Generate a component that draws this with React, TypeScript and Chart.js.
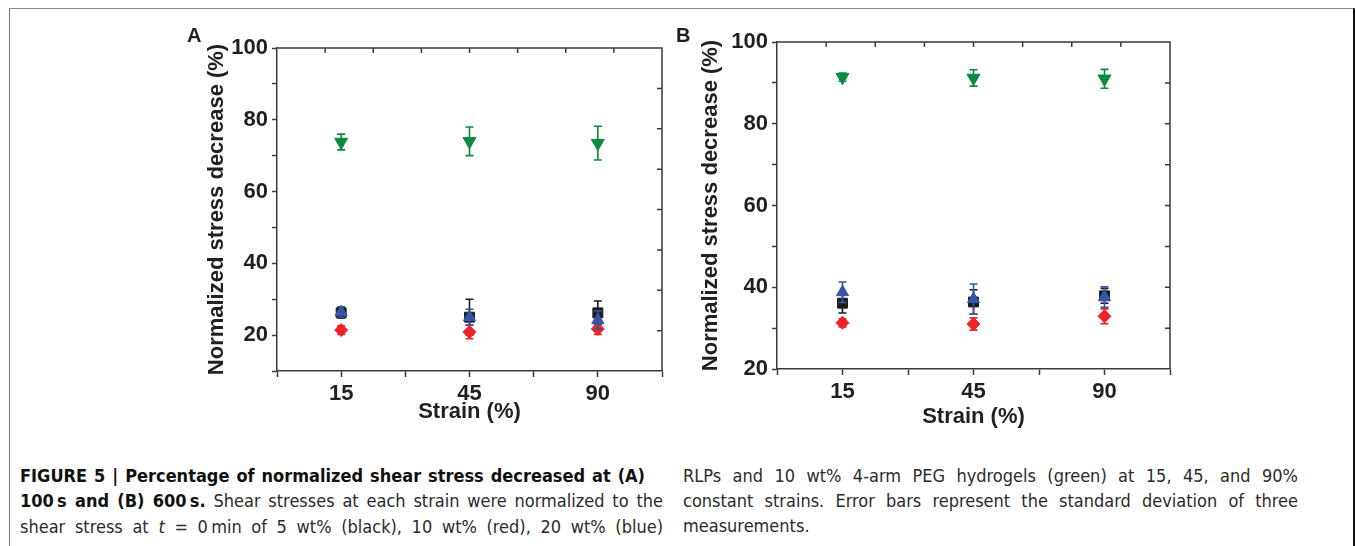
import React, { useEffect, useRef } from "react";
import { Chart, registerables } from "chart.js";

Chart.register(...registerables);

// ---------- data ----------
const strainLabels = ["15", "45", "90"];
const strainPos = [0, 1, 2];

// Panel A: 100 s
const aBlack = [26.2, 25.0, 26.2];
const aBlackErr = [1.5, 5.0, 3.3];
const aRed = [21.4, 20.9, 21.7];
const aRedErr = [1.2, 1.9, 1.5];
const aBlue = [26.4, 25.0, 24.2];
const aBlueErr = [1.5, 2.2, 2.5];
const aGreen = [73.8, 74.0, 73.5];
const aGreenErr = [2.2, 4.0, 4.7];

// Panel B: 600 s
const bBlack = [36.1, 36.4, 37.9];
const bBlackErr = [2.4, 3.0, 1.8];
const bRed = [31.3, 31.0, 32.9];
const bRedErr = [1.0, 1.5, 1.8];
const bBlue = [38.8, 37.1, 37.6];
const bBlueErr = [2.5, 3.7, 2.5];
const bGreen = [91.4, 91.2, 91.0];
const bGreenErr = [1.0, 2.0, 2.3];

const yTicksA = [10, 100];
const yTicksB = [20, 100];

const COLORS = {
  black: "#1c1c1c",
  red: "#ee2229",
  blue: "#3555a6",
  green: "#0b8a42",
  axis: "#3a3a3a",
  text: "#231f20",
};

const FONT_FAMILY = "'Liberation Sans', Arial, Helvetica, sans-serif";

const errorBarPlugin = {
  id: "errorBars",
  afterDatasetDraw(chart: any, args: any) {
    const ds = chart.data.datasets[args.index];
    const errs = ds.errors;
    if (!errs) return;
    const ctx = chart.ctx;
    const xs = chart.scales.x;
    const ys = chart.scales.y;
    ctx.save();
    ctx.strokeStyle = ds.borderColor;
    ctx.lineWidth = 1.6;
    ds.data.forEach((p: any, i: number) => {
      const x = xs.getPixelForValue(p.x);
      const yt = ys.getPixelForValue(p.y + errs[i]);
      const yb = ys.getPixelForValue(p.y - errs[i]);
      ctx.beginPath();
      ctx.moveTo(x, yt);
      ctx.lineTo(x, yb);
      ctx.moveTo(x - 4, yt);
      ctx.lineTo(x + 4, yt);
      ctx.moveTo(x - 4, yb);
      ctx.lineTo(x + 4, yb);
      ctx.stroke();
    });
    ctx.restore();
  },
};

const framePlugin = {
  id: "frame",
  afterDraw(chart: any) {
    const { left, right, top, bottom } = chart.chartArea;
    const ctx = chart.ctx;
    ctx.save();
    ctx.strokeStyle = COLORS.axis;
    ctx.lineWidth = 1.5;
    ctx.beginPath();
    ctx.moveTo(left, top);
    ctx.lineTo(right, top);
    ctx.lineTo(right, bottom);
    const n = 8;
    for (let i = 1; i < n; i++) {
      const x = left + ((right - left) * i) / n;
      ctx.moveTo(x, top);
      ctx.lineTo(x, top + 5);
      const y = top + ((bottom - top) * i) / n;
      ctx.moveTo(right, y);
      ctx.lineTo(right - 5, y);
    }
    ctx.stroke();
    ctx.restore();
  },
};

type PanelProps = {
  black: number[]; blackErr: number[];
  red: number[]; redErr: number[];
  blue: number[]; blueErr: number[];
  green: number[]; greenErr: number[];
  yRange: number[];
  geom: {
    left: number; top: number; width: number; height: number;
    yAxisW: number; xAxisH: number; padTop: number; padRight: number;
    yTitlePad: number; xTitlePad: number;
  };
};

function pts(vals: number[]) {
  return vals.map((v, i) => ({ x: strainPos[i], y: v }));
}

function Panel(props: PanelProps) {
  const ref = useRef<HTMLCanvasElement | null>(null);
  useEffect(() => {
    if (!ref.current) return;
    const g = props.geom;
    const tickFont = { family: FONT_FAMILY, size: 22, weight: "bold" as const };
    const chart = new Chart(ref.current, {
      type: "scatter",
      data: {
        datasets: [
          {
            label: "20 wt%",
            data: pts(props.blue),
            errors: props.blueErr,
            pointStyle: "triangle",
            pointRadius: 7,
            backgroundColor: COLORS.blue,
            borderColor: COLORS.blue,
            borderWidth: 1,
          } as any,
          {
            label: "10 wt%",
            data: pts(props.red),
            errors: props.redErr,
            pointStyle: "rectRot",
            pointRadius: 6.5,
            backgroundColor: COLORS.red,
            borderColor: COLORS.red,
            borderWidth: 1,
          } as any,
          {
            label: "5 wt%",
            data: pts(props.black),
            errors: props.blackErr,
            pointStyle: "rect",
            pointRadius: 7,
            backgroundColor: COLORS.black,
            borderColor: COLORS.black,
            borderWidth: 1,
          } as any,
          {
            label: "PEG",
            data: pts(props.green),
            errors: props.greenErr,
            pointStyle: "triangle",
            rotation: 180,
            pointRadius: 7.5,
            backgroundColor: COLORS.green,
            borderColor: COLORS.green,
            borderWidth: 1,
          } as any,
        ],
      },
      options: {
        animation: false,
        responsive: false,
        maintainAspectRatio: false,
        layout: { padding: { top: g.padTop, right: g.padRight, left: 0, bottom: 0 } },
        plugins: { legend: { display: false }, tooltip: { enabled: false } },
        scales: {
          x: {
            type: "linear",
            min: -0.5,
            max: 2.5,
            ticks: {
              stepSize: 0.5,
              autoSkip: false,
              maxRotation: 0,
              padding: 4,
              color: COLORS.text,
              font: tickFont,
              callback: (v: any) => {
                const r = Math.round(v);
                return Math.abs(v - r) < 1e-6 && r >= 0 && r < strainLabels.length
                  ? strainLabels[r]
                  : "";
              },
            },
            grid: {
              drawOnChartArea: false,
              drawTicks: true,
              tickLength: 6,
              tickColor: COLORS.axis,
              tickWidth: 1.5,
            },
            border: { color: COLORS.axis, width: 1.5 },
            title: {
              display: true,
              text: "Strain (%)",
              color: COLORS.text,
              font: tickFont,
              padding: { top: 0, bottom: g.xTitlePad },
            },
            afterFit: (s: any) => {
              s.height = g.xAxisH;
            },
          },
          y: {
            type: "linear",
            min: props.yRange[0],
            max: props.yRange[1],
            ticks: {
              stepSize: 10,
              padding: 4,
              color: COLORS.text,
              font: tickFont,
              callback: (v: any) => (Math.round(v) % 20 === 0 ? String(v) : ""),
            },
            grid: {
              drawOnChartArea: false,
              drawTicks: true,
              tickLength: 5,
              tickColor: COLORS.axis,
              tickWidth: 1.5,
            },
            border: { color: COLORS.axis, width: 1.5 },
            title: {
              display: true,
              text: "Normalized stress decrease (%)",
              color: COLORS.text,
              font: tickFont,
              padding: { top: g.yTitlePad, bottom: 0 },
            },
            afterFit: (s: any) => {
              s.width = g.yAxisW;
            },
          },
        },
      } as any,
      plugins: [errorBarPlugin, framePlugin],
    });
    return () => chart.destroy();
  }, []);
  const g = props.geom;
  return (
    <canvas
      ref={ref}
      width={g.width}
      height={g.height}
      style={{ position: "absolute", left: g.left, top: g.top, width: g.width, height: g.height }}
    />
  );
}

const capFont =
  "'Liberation Sans Narrow', 'DejaVu Sans Condensed', 'Roboto Condensed', 'Liberation Sans', Arial, sans-serif";

function CapLine(props: {
  left: number; top: number; width: number; justify?: boolean; children: any;
}) {
  return (
    <div
      style={{
        position: "absolute",
        left: props.left,
        top: props.top,
        width: props.width,
        fontFamily: capFont,
        fontStretch: "condensed",
        fontSize: 18,
        lineHeight: "20px",
        color: "#2b2b2b",
        whiteSpace: "nowrap",
        textAlign: props.justify ? "justify" : "left",
        textAlignLast: props.justify ? "justify" : "left",
      } as any}
    >
      {props.children}
    </div>
  );
}

export default function App() {
  return (
    <div
      style={{
        position: "absolute",
        left: 0,
        top: 0,
        width: 1355,
        height: 546,
        overflow: "hidden",
        background: "#ffffff",
      }}
    >
      <div
        style={{
          position: "absolute",
          left: 9,
          top: 8,
          width: 1346,
          height: 700,
          boxSizing: "border-box",
          borderTop: "1px solid #8a8a8a",
          borderLeft: "1px solid #7a7a7a",
          borderRight: "2px solid #111111",
        }}
      />
      <Panel
        black={aBlack} blackErr={aBlackErr}
        red={aRed} redErr={aRedErr}
        blue={aBlue} blueErr={aBlueErr}
        green={aGreen} greenErr={aGreenErr}
        yRange={yTicksA}
        geom={{
          left: 180, top: 20, width: 500, height: 420,
          yAxisW: 97, xAxisH: 69, padTop: 28, padRight: 18,
          yTitlePad: 24, xTitlePad: 15,
        }}
      />
      <Panel
        black={bBlack} blackErr={bBlackErr}
        red={bRed} redErr={bRedErr}
        blue={bBlue} blueErr={bBlueErr}
        green={bGreen} greenErr={bGreenErr}
        yRange={yTicksB}
        geom={{
          left: 690, top: 15, width: 500, height: 425,
          yAxisW: 87, xAxisH: 71, padTop: 27, padRight: 20,
          yTitlePad: 8, xTitlePad: 10,
        }}
      />
      <div
        style={{
          position: "absolute", left: 187, top: 25, fontFamily: FONT_FAMILY,
          fontWeight: "bold", fontSize: 20, lineHeight: "20px", color: COLORS.text,
        }}
      >
        A
      </div>
      <div
        style={{
          position: "absolute", left: 676, top: 25, fontFamily: FONT_FAMILY,
          fontWeight: "bold", fontSize: 20, lineHeight: "20px", color: COLORS.text,
        }}
      >
        B
      </div>

      <CapLine left={20} top={466} width={625} justify>
        <b style={{ color: "#111" }}>FIGURE 5 | Percentage of normalized shear stress decreased at (A)</b>
      </CapLine>
      <CapLine left={20} top={491} width={643} justify>
        <b style={{ color: "#111" }}>100{"\u2009"}s and (B) 600{"\u2009"}s.</b> Shear stresses at each strain were normalized to the
      </CapLine>
      <CapLine left={20} top={517} width={643} justify>
        shear stress at <i>t</i> = 0{"\u2009"}min of 5 wt% (black), 10 wt% (red), 20 wt% (blue)
      </CapLine>
      <CapLine left={683} top={466} width={615} justify>
        RLPs and 10 wt% 4-arm PEG hydrogels (green) at 15, 45, and 90%
      </CapLine>
      <CapLine left={683} top={491} width={615} justify>
        constant strains. Error bars represent the standard deviation of three
      </CapLine>
      <CapLine left={683} top={516}>
        measurements.
      </CapLine>
    </div>
  );
}
